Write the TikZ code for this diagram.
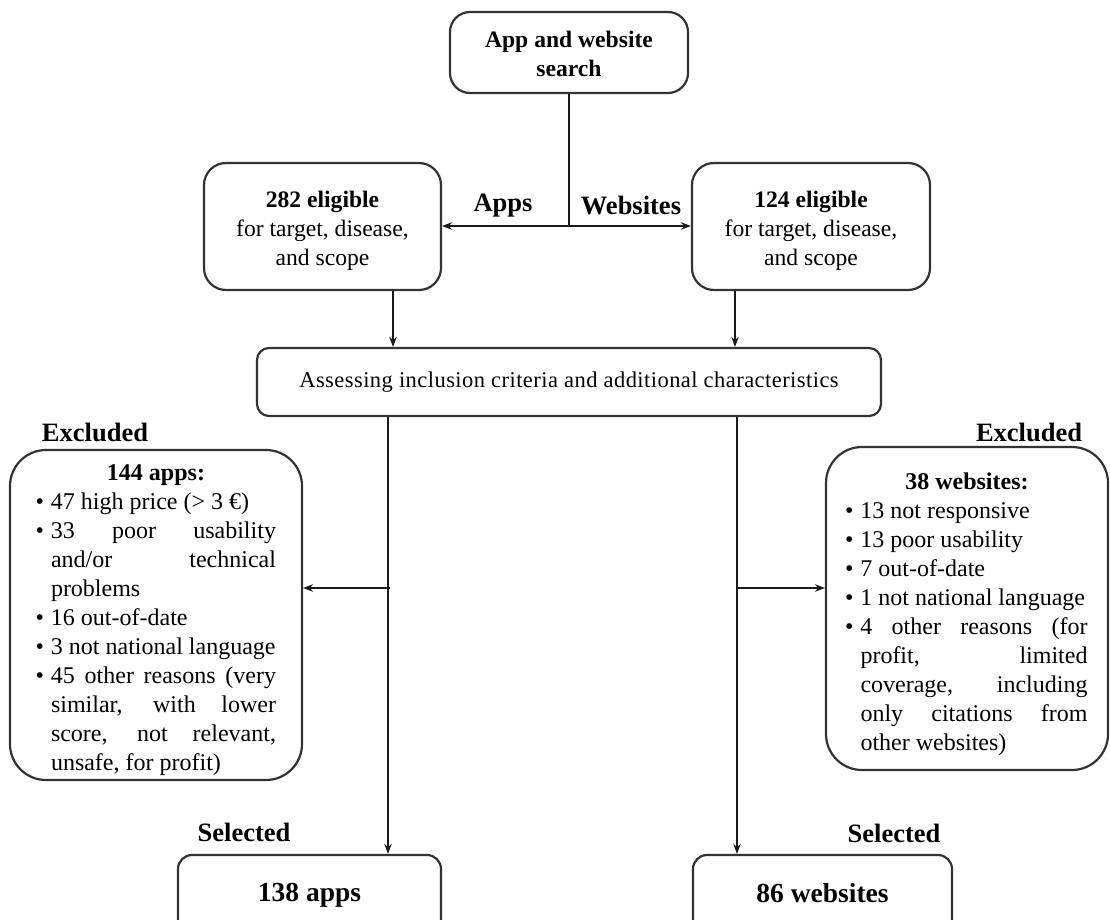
\documentclass[tikz,border=0pt]{standalone}
\usepackage{fontspec}
\setmainfont{Liberation Serif}
\usetikzlibrary{arrows.meta,calc}
\definecolor{boxc}{HTML}{333333}
\definecolor{linec}{HTML}{1A1A1A}
\newcommand\exitem{\par\noindent\llap{\textbullet\hspace{7pt}}}
\newcommand\lowered[2][4pt]{\raisebox{-#1}[\height][\depth]{#2}}
\begin{document}
\begin{tikzpicture}[x=1pt,y=-1pt,
  box/.style={draw=boxc, line width=2.2pt, rounded corners=20pt, align=center,
    inner sep=0pt, font=\fontsize{23.6}{29}\selectfont},
  exbox/.style={draw=boxc, line width=2.2pt, rounded corners=36pt, inner sep=0pt,
    font=\fontsize{24}{29}\selectfont},
  lbl/.style={font=\fontsize{26.5}{29}\selectfont\bfseries, inner sep=0pt},
  conn/.style={line width=2pt, draw=linec},
  arr/.style={conn, -{Stealth[length=10pt,width=7.5pt]}}
]
\useasboundingbox (0,0) rectangle (1110,920);

% boxes
\node[box, minimum width=238pt, minimum height=81pt] (search) at (569,52.5)
  {\lowered{\begin{tabular}{@{}c@{}}\bfseries App and website\\\bfseries search\end{tabular}}};
\node[box, minimum width=237pt, minimum height=127pt, rounded corners=22pt] (eligA) at (322.5,226.5)
  {\lowered{\begin{tabular}{@{}c@{}}\bfseries 282 eligible\\for target, disease,\\and scope\end{tabular}}};
\node[box, minimum width=238pt, minimum height=127pt, rounded corners=22pt] (eligW) at (811,226.5)
  {\lowered{\begin{tabular}{@{}c@{}}\bfseries 124 eligible\\for target, disease,\\and scope\end{tabular}}};
\node[box, minimum width=624pt, minimum height=68pt, rounded corners=12pt,
  font=\fontsize{22.5}{27}\selectfont\addfontfeature{LetterSpace=2}] (assess) at (569,382)
  {Assessing inclusion criteria and additional characteristics};

\node[exbox, minimum width=292pt, minimum height=330pt] (exA) at (156,615)
  {\lowered[5.5pt]{\parbox{240pt}{%
   {\centering\bfseries 144 apps:\par}
   \leftskip=15pt \parindent=0pt \tolerance=10000 \hyphenpenalty=10000
   \exitem 47 high price (> 3 €)
   \exitem 33 poor usability\linebreak and/or technical\linebreak problems
   \exitem 16 out-of-date
   \exitem 3 not national language
   \exitem 45 other reasons (very\linebreak similar, with lower\linebreak score, not relevant,\linebreak unsafe, for profit)\par}}};
\node[exbox, minimum width=282pt, minimum height=323pt] (exW) at (967,608.5)
  {\lowered[6pt]{\parbox{241pt}{%
   {\centering\bfseries 38 websites:\par}
   \leftskip=14pt \parindent=0pt \tolerance=10000 \hyphenpenalty=10000
   \exitem 13 not responsive
   \exitem 13 poor usability
   \exitem 7 out-of-date
   \exitem 1 not national language
   \exitem 4 other reasons (for\linebreak profit, limited\linebreak coverage, including\linebreak only citations from\linebreak other websites)\par}}};

\node[box, minimum width=263pt, minimum height=80pt, rounded corners=14pt,
  font=\fontsize{27.5}{30}\selectfont\bfseries] (selA) at (309.5,895)
  {\raisebox{5pt}{138 apps}};
\node[box, minimum width=259pt, minimum height=80pt, rounded corners=14pt,
  font=\fontsize{27.5}{30}\selectfont\bfseries] (selW) at (822.5,895)
  {\raisebox{5pt}{86 websites}};

% labels
\node[lbl] (apps) at (503,206) {Apps};
\node[lbl] (webs) at (631,206) {Websites};
\node[lbl] (exclA) at (95,432) {Excluded};
\node[lbl] (exclW) at (1029,432) {Excluded};
\node[lbl] (seltA) at (244,832) {Selected};
\node[lbl] (seltW) at (894,833) {Selected};

% helper coordinates
\coordinate (j) at (569,226);
\coordinate (xa) at (393,0);
\coordinate (xw) at (735,0);
\coordinate (la) at (388,0);
\coordinate (lw) at (737,0);
\coordinate (ba) at (390,588);
\coordinate (bw) at (737,588);

% connectors
\draw[conn] (search.south) -- (j);
\draw[arr] (j) -- (eligA.east |- j);
\draw[arr] (j) -- (eligW.west |- j);
\draw[arr] (eligA.south -| xa) -- (assess.north -| xa);
\draw[arr] (eligW.south -| xw) -- (assess.north -| xw);
\draw[arr] (assess.south -| la) -- (selA.north -| la);
\draw[arr] (assess.south -| lw) -- (selW.north -| lw);
\draw[arr] (ba) -- (exA.east |- ba);
\draw[arr] (bw) -- (exW.west |- bw);
\end{tikzpicture}
\end{document}
